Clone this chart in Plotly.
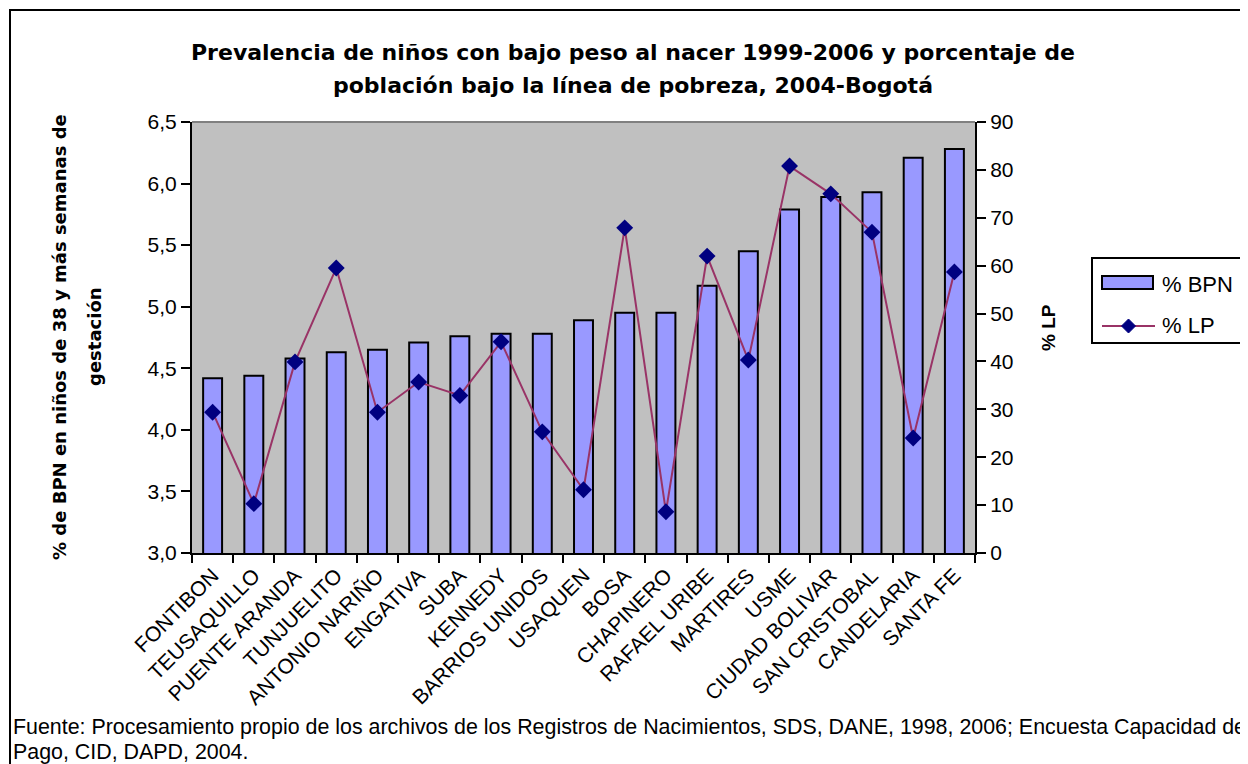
import plotly.graph_objects as go

categories = ["FONTIBON", "TEUSAQUILLO", "PUENTE ARANDA", "TUNJUELITO", "ANTONIO NARIÑO",
              "ENGATIVA", "SUBA", "KENNEDY", "BARRIOS UNIDOS", "USAQUEN", "BOSA",
              "CHAPINERO", "RAFAEL URIBE", "MARTIRES", "USME", "CIUDAD BOLIVAR",
              "SAN CRISTOBAL", "CANDELARIA", "SANTA FE"]
bpn = [4.42, 4.44, 4.58, 4.63, 4.65, 4.71, 4.76, 4.78, 4.78, 4.89, 4.95,
       4.95, 5.17, 5.45, 5.79, 5.89, 5.93, 6.21, 6.28]
lp = [29.4, 10.3, 39.9, 59.5, 29.4, 35.7, 32.9, 44.1, 25.3, 13.2, 67.9,
      8.6, 62.0, 40.3, 80.8, 75.0, 67.0, 24.0, 58.7]
left_ticks = [3.0, 3.5, 4.0, 4.5, 5.0, 5.5, 6.0, 6.5]
right_ticks = [0, 10, 20, 30, 40, 50, 60, 70, 80, 90]

OFF = 8  # browser body margin
W, H = 1248 - OFF, 764 - OFF
# plot area in reference pixels
L, R, T, B = 192, 975, 122, 553
PW, PH = R - L, B - T

def px(x):
    return (x - L) / PW

def py(y):
    return (B - y) / PH

BAR_COLOR = "#9999FF"
LINE_COLOR = "#993366"
MARK_COLOR = "#000080"

fig = go.Figure()
fig.add_trace(go.Bar(
    x=categories, y=bpn, name="% BPN",
    marker=dict(color=BAR_COLOR, line=dict(color="black", width=2)),
    yaxis="y", showlegend=False,
))
fig.add_trace(go.Scatter(
    x=categories, y=lp, name="% LP", mode="lines+markers",
    line=dict(color=LINE_COLOR, width=2),
    marker=dict(symbol="diamond", color=MARK_COLOR, size=13),
    yaxis="y2", showlegend=False,
))

ARIAL = "Liberation Sans, Arial, sans-serif"
WIDE_BOLD = "DejaVu Sans, Verdana, sans-serif"
tickfont = dict(family=ARIAL, size=21, color="black")
fig.update_layout(
    width=W, height=H,
    margin=dict(l=L - OFF, r=(W + OFF) - R, t=T - OFF, b=(H + OFF) - B, pad=0),
    paper_bgcolor="white", plot_bgcolor="#C0C0C0",
    separators=",.",
    bargap=0.54,
    xaxis=dict(
        range=[-0.5, len(categories) - 0.5],
        showline=True, linecolor="black", linewidth=2, ticks="outside", tickson="boundaries",
        ticklen=8, tickcolor="black", tickwidth=2, tickangle=-45,
        tickfont=dict(family=ARIAL, size=21, color="black"),
        showgrid=False,
    ),
    yaxis=dict(
        range=[3.0, 6.5], tickvals=left_ticks, tickformat=".1f",
        showline=True, linecolor="black", linewidth=2, ticks="outside", ticklen=9,
        tickcolor="black", tickwidth=2, tickfont=tickfont, showgrid=False, zeroline=False,
    ),
    yaxis2=dict(
        range=[0, 90], tickvals=right_ticks, overlaying="y", side="right",
        showline=True, linecolor="black", linewidth=2, ticks="outside", ticklen=9,
        tickcolor="black", tickwidth=2, tickfont=tickfont, showgrid=False, zeroline=False,
    ),
)

annots = [
    dict(text="<b>Prevalencia de niños con bajo peso al nacer 1999-2006 y porcentaje de</b>",
         x=px(633), y=py(52), font=dict(family=WIDE_BOLD, size=22, color="black")),
    dict(text="<b>población bajo la línea de pobreza, 2004-Bogotá</b>",
         x=px(633), y=py(85), font=dict(family=WIDE_BOLD, size=22, color="black")),
    dict(text="<b>% de BPN en niños de 38 y más semanas de</b>",
         x=px(59), y=py(337), textangle=-90, font=dict(family=WIDE_BOLD, size=18, color="black")),
    dict(text="<b>gestación</b>",
         x=px(94), y=py(337), textangle=-90, font=dict(family=WIDE_BOLD, size=18, color="black")),
    dict(text="<b>% LP</b>",
         x=px(1048), y=py(328), textangle=-90, font=dict(family=ARIAL, size=19, color="black")),
]
for a in annots:
    fig.add_annotation(xref="paper", yref="paper", showarrow=False,
                       xanchor="center", yanchor="middle", **a)

foot = dict(family=ARIAL, size=21.4, color="black")
fig.add_annotation(xref="paper", yref="paper", showarrow=False, xanchor="left", yanchor="middle",
                   x=px(11), y=py(727), font=foot,
                   text="Fuente: Procesamiento propio de los archivos de los Registros de Nacimientos, SDS, DANE, 1998, 2006; Encuesta Capacidad de")
fig.add_annotation(xref="paper", yref="paper", showarrow=False, xanchor="left", yanchor="middle",
                   x=px(11), y=py(752), font=foot,
                   text="Pago, CID, DAPD, 2004.")

# outer chart border and plot-area top border
fig.add_shape(type="rect", xref="paper", yref="paper",
              x0=px(10), x1=px(1262), y0=py(10), y1=py(780),
              line=dict(color="black", width=2), layer="below")
fig.add_shape(type="line", xref="paper", yref="paper",
              x0=0, x1=1, y0=1, y1=1, line=dict(color="#808080", width=2))

# legend box (custom, to mimic the original layout)
fig.add_shape(type="rect", xref="paper", yref="paper",
              x0=px(1092), x1=px(1262), y0=py(258), y1=py(343),
              line=dict(color="black", width=2), fillcolor="white")
fig.add_shape(type="rect", xref="paper", yref="paper",
              x0=px(1102), x1=px(1153), y0=py(276), y1=py(289),
              line=dict(color="black", width=2), fillcolor=BAR_COLOR)
fig.add_shape(type="line", xref="paper", yref="paper",
              x0=px(1102), x1=px(1155), y0=py(326), y1=py(326),
              line=dict(color=LINE_COLOR, width=2))
cx, cy, d = 1128.5, 326, 7
fig.add_shape(type="path", xref="paper", yref="paper",
              path=f"M {px(cx - d)},{py(cy)} L {px(cx)},{py(cy - d)} L {px(cx + d)},{py(cy)} L {px(cx)},{py(cy + d)} Z",
              line=dict(color=MARK_COLOR, width=1), fillcolor=MARK_COLOR)
for label, ly in [("% BPN", 284), ("% LP", 325)]:
    fig.add_annotation(xref="paper", yref="paper", showarrow=False, xanchor="left", yanchor="middle",
                       x=px(1160), y=py(ly), text=label, font=dict(family=ARIAL, size=22, color="black"))

fig.write_html("out.html")
